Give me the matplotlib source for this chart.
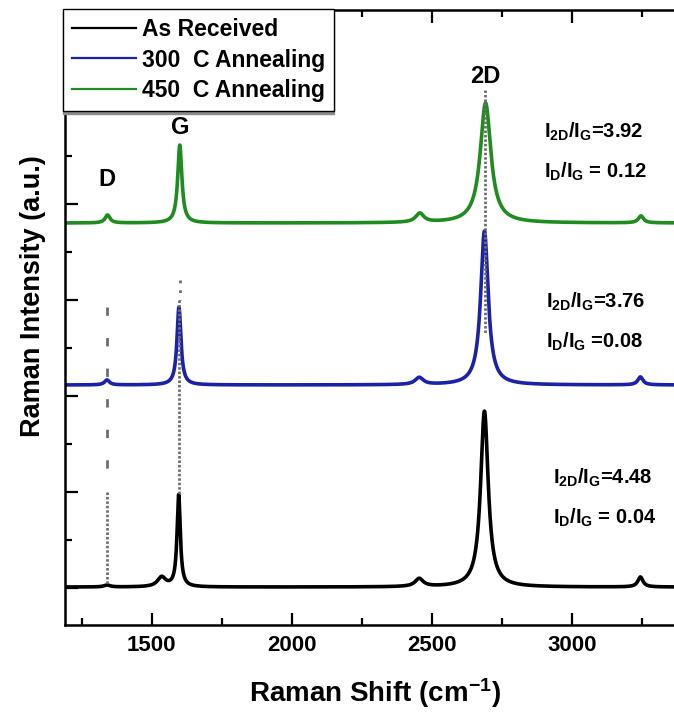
import numpy as np
import matplotlib
matplotlib.use("Agg")
import matplotlib.pyplot as plt
from matplotlib.ticker import MultipleLocator

plt.rcParams['font.family'] = ['Liberation Sans', 'DejaVu Sans']
plt.rcParams['font.weight'] = 'bold'
plt.rcParams['mathtext.fontset'] = 'custom'
plt.rcParams['mathtext.rm'] = 'Liberation Sans:bold'
plt.rcParams['mathtext.it'] = 'Liberation Sans:bold'
plt.rcParams['mathtext.bf'] = 'Liberation Sans:bold'

# ---- spectra (stacked, arbitrary units) ----
samples = ["As Received", "300  C Annealing", "450  C Annealing"]
colors = ["#000000", "#1b22a8", "#1e8c1e"]
offsets = [10, 2115, 3802]

# band positions (cm^-1)
pos_D = [1340, 1340, 1342]
pos_G = [1596, 1597, 1600]
pos_2D = [2688, 2688, 2692]
pos_weak = [2455, 2455, 2457]      # D+D'' combination band
pos_2G = [3245, 3245, 3247]        # 2D' overtone
pos_shoulder = [1535, 1535, 1535]

# band heights (a.u.)
h_D = [21, 52, 83]
h_G = [958, 812, 812]
h_2D = [1833, 1604, 1250]
h_weak = [83, 73, 94]
h_2G = [104, 83, 73]
h_shoulder = [100, 0, 0]

# G band width (cm^-1) and integrated intensity ratios
fwhm_G = [14, 17, 18]
ratio_2D_G = [4.48, 3.76, 3.92]
ratio_D_G = [0.04, 0.08, 0.12]
ratio_2D_text = ["=4.48", "=3.76", "=3.92"]
ratio_D_text = [" = 0.04", " =0.08", " = 0.12"]


def lorentz(x, x0, h, w):
    return h * (w / 2) ** 2 / ((x - x0) ** 2 + (w / 2) ** 2)


x = np.linspace(1190, 3365, 3000)

fig = plt.figure(figsize=(6.74, 7.15), dpi=100)
ax = fig.add_axes([65 / 674, 1 - 625 / 715, 1 - 65 / 674, 615 / 715])

for i in range(3):
    # widths chosen so that integrated areas follow the quoted ratios
    w2d = ratio_2D_G[i] * h_G[i] * fwhm_G[i] / h_2D[i]
    wd = ratio_D_G[i] * h_G[i] * fwhm_G[i] / h_D[i]
    y = (offsets[i]
         + lorentz(x, pos_D[i], h_D[i], wd)
         + lorentz(x, pos_G[i], h_G[i], fwhm_G[i])
         + lorentz(x, pos_2D[i], h_2D[i], w2d)
         + lorentz(x, pos_weak[i], h_weak[i], 35)
         + lorentz(x, pos_2G[i], h_2G[i], 22)
         + lorentz(x, pos_shoulder[i], h_shoulder[i], 35))
    ax.plot(x, y, color=colors[i], lw=2.6, label=samples[i], zorder=2)

# guide lines through the band centres
gc = "#6e6e6e"
dense = (0, (0.9, 0.7))
ax.plot([1340, 1340], [2927, 1020], color=gc, lw=2, ls=(0, (3, 8)), zorder=3)
ax.plot([1340, 1340], [1000, 31], color=gc, lw=2, ls=dense, zorder=3)
ax.plot([1599, 1599], [3208, 3000], color=gc, lw=2, ls=(0, (1, 2.5)), zorder=3)
ax.plot([1598, 1598], [3000, 969], color=gc, lw=2, ls=dense, zorder=3)
ax.plot([2690, 2690], [5188, 2656], color=gc, lw=2, ls=dense, zorder=3)

# band names
ax.text(1340, 4260, "D", fontsize=17, fontweight='bold', ha='center', va='center')
ax.text(1600, 4802, "G", fontsize=17, fontweight='bold', ha='center', va='center')
ax.text(2690, 5333, "2D", fontsize=17, fontweight='bold', ha='center', va='center')

# intensity ratio notes
note_x = [2932, 2907, 2900]
note_y1 = [1146, 2979, 4750]
note_y2 = [729, 2562, 4333]
for i in range(3):
    ax.text(note_x[i], note_y1[i], r"I$_{\rm 2D}$/I$_{\rm G}$" + ratio_2D_text[i],
            fontsize=14.5, fontweight='bold', ha='left', va='center')
    ax.text(note_x[i], note_y2[i], r"I$_{\rm D}$/I$_{\rm G}$" + ratio_D_text[i],
            fontsize=14.5, fontweight='bold', ha='left', va='center')

ax.set_xlim(1190, 3365)
ax.set_ylim(-385, 6021)
ax.xaxis.set_major_locator(MultipleLocator(500))
ax.xaxis.set_minor_locator(MultipleLocator(250))
ax.yaxis.set_major_locator(MultipleLocator(1000))
ax.yaxis.set_minor_locator(MultipleLocator(500))
ax.tick_params(which='both', direction='in', top=True, right=False,
               labelleft=False, width=1.6)
ax.tick_params(which='major', length=9, labelsize=16, pad=7)
ax.tick_params(which='minor', length=5)
for lab in ax.get_xticklabels():
    lab.set_fontweight('bold')
for s in ['left', 'top', 'bottom']:
    ax.spines[s].set_linewidth(1.8)
ax.spines['right'].set_visible(False)

ax.set_xlabel("Raman Shift (cm$^{-1}$)", fontsize=20, fontweight='bold', va='center')
ax.xaxis.set_label_coords((375 - 65) / 609, -(693 - 625) / 615)
ax.set_ylabel("Raman Intensity (a.u.)", fontsize=19.5, fontweight='bold', va='center')
ax.yaxis.set_label_coords((33 - 65) / 609, (625 - 296) / 615)

leg = ax.legend(loc='upper left', bbox_to_anchor=(63 / 674, 1 - 9 / 715),
                bbox_transform=fig.transFigure, frameon=True, fancybox=False,
                edgecolor='black', framealpha=1, borderpad=0.4, labelspacing=0.32,
                handlelength=2.8, handletextpad=0.25, borderaxespad=0,
                prop={'size': 16.5, 'weight': 'bold'},
                shadow={'ox': 0, 'oy': -2.2, 'color': '0.55', 'alpha': 1})
leg.get_frame().set_linewidth(1.0)
leg.set_zorder(5)
for ln in leg.get_lines():
    ln.set_linewidth(1.6)

fig.savefig("out.png", dpi=100)
